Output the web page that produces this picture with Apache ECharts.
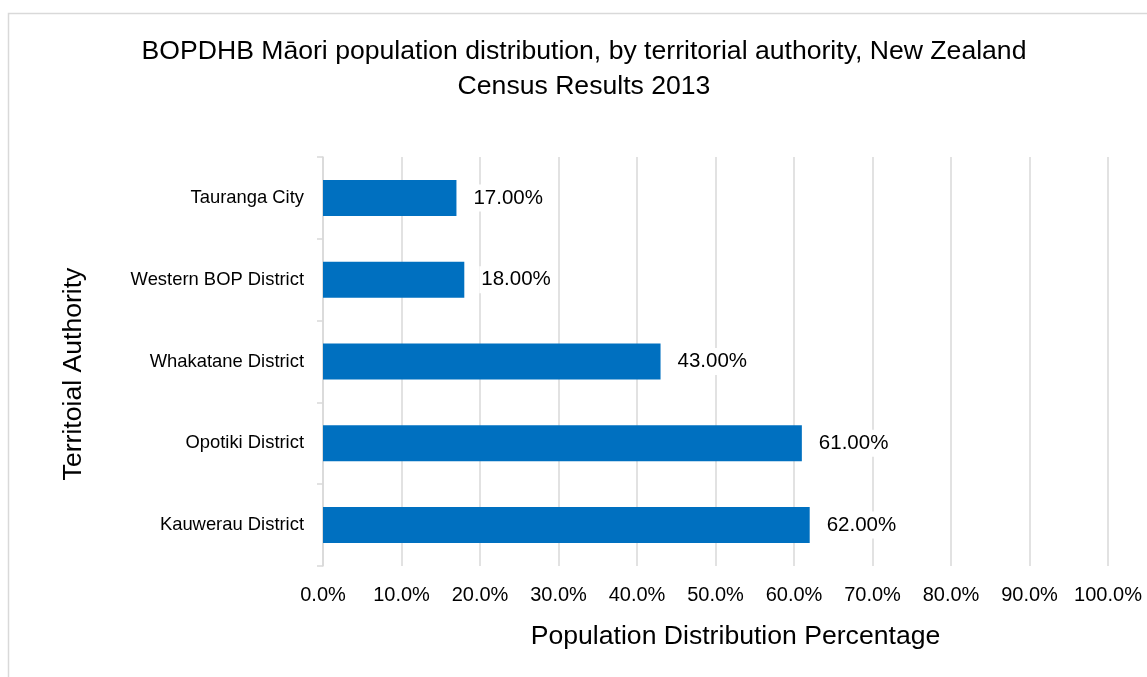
<!DOCTYPE html>
<html>
<head>
<meta charset="utf-8">
<script src="https://cdn.jsdelivr.net/npm/echarts@6/dist/echarts.min.js"></script>
<style>
html,body{margin:0;padding:0;background:#fff;}
#chart{width:1147px;height:677px;}
</style>
</head>
<body>
<div id="chart"></div>
<script>
const titleLines = ['BOPDHB M\u0101ori population distribution, by territorial authority, New Zealand', 'Census Results 2013'];
const categories = ['Tauranga City', 'Western BOP District', 'Whakatane District', 'Opotiki District', 'Kauwerau District'];
const values = [17, 18, 43, 61, 62];
const xTicks = [0, 10, 20, 30, 40, 50, 60, 70, 80, 90, 100];
const xAxisName = 'Population Distribution Percentage';
const yAxisName = 'Territoial Authority';

const FONT = "'Liberation Sans', Arial, sans-serif";
const chart = echarts.init(document.getElementById('chart'), null, {renderer: 'canvas'});
chart.setOption({
  animation: false,
  backgroundColor: '#fff',
  graphic: [{
    type: 'rect', silent: true, z: -1,
    shape: {x: 8.5, y: 13.5, width: 1300, height: 800},
    style: {fill: 'none', stroke: '#d9d9d9', lineWidth: 1.5}
  }],
  title: {
    text: titleLines.join('\n'),
    left: 584, top: 34, padding: 0,
    textAlign: 'center',
    textStyle: {fontFamily: FONT, fontSize: 26.6, fontWeight: 'normal', color: '#000', lineHeight: 35}
  },
  grid: {left: 323, right: 39, top: 157, bottom: 111, containLabel: false},
  xAxis: {
    type: 'value', min: xTicks[0], max: xTicks[xTicks.length - 1], interval: 10,
    axisLine: {show: false}, axisTick: {show: false},
    splitLine: {show: true, lineStyle: {color: '#d9d9d9', width: 1.5}},
    axisLabel: {margin: 19, fontFamily: FONT, fontSize: 20, color: '#000',
      formatter: v => v.toFixed(1) + '%'},
    name: xAxisName, nameLocation: 'middle', nameGap: 57,
    nameTextStyle: {fontFamily: FONT, fontSize: 26.6, color: '#000', padding: [0, 0, 0, 40]}
  },
  yAxis: {
    type: 'category', data: categories, inverse: true,
    axisLine: {show: true, lineStyle: {color: '#d9d9d9', width: 1.5}},
    axisTick: {show: true, length: 6, lineStyle: {color: '#d9d9d9', width: 1.5}},
    axisLabel: {margin: 19, fontFamily: FONT, fontSize: 18.4, color: '#000'},
    splitLine: {show: false},
    name: yAxisName, nameLocation: 'middle', nameGap: 236, nameRotate: 90,
    nameTextStyle: {fontFamily: FONT, fontSize: 26.6, color: '#000', padding: [0, 25, 0, 0]}
  },
  series: [{
    type: 'bar', data: values, barWidth: '44%',
    itemStyle: {color: '#0070C0'},
    label: {
      show: true, position: 'right', distance: 15,
      fontFamily: FONT, fontSize: 20.5, color: '#000',
      backgroundColor: '#fff', padding: [3, 2],
      formatter: p => p.value.toFixed(2) + '%'
    }
  }]
});
</script>
</body>
</html>
